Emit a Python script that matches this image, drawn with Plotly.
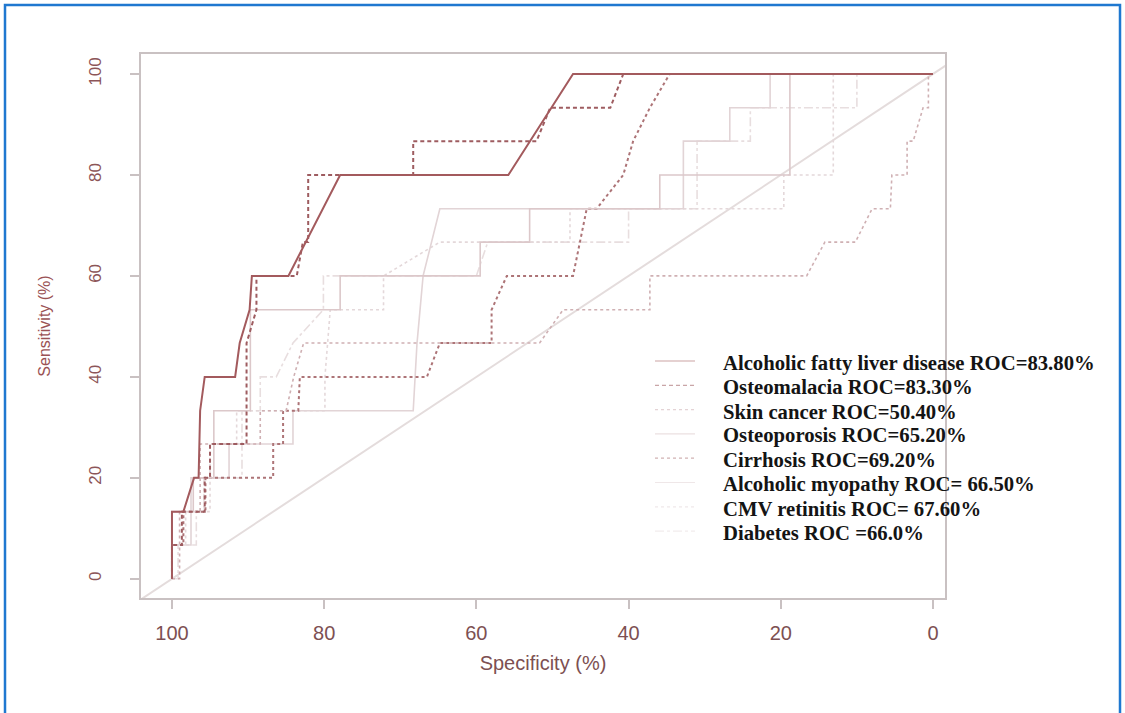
import plotly.graph_objects as go

# ---------------- data (specificity %, sensitivity %) ----------------
legend_labels = [
    "Alcoholic fatty liver disease ROC=83.80%",
    "Osteomalacia ROC=83.30%",
    "Skin cancer ROC=50.40%",
    "Osteoporosis ROC=65.20%",
    "Cirrhosis ROC=69.20%",
    "Alcoholic myopathy ROC= 66.50%",
    "CMV retinitis ROC= 67.60%",
    "Diabetes ROC =66.0%",
]

afld_spec = [100, 100, 98.5, 97.1, 96.5, 96.3, 95.7, 91.7, 91.1, 89.8, 89.5, 84.7, 77.9, 55.8, 47.3, 0]
afld_sens = [0, 13.3, 13.3, 20, 20, 33.3, 40, 40, 46.7, 53.3, 60, 60, 80, 80, 100, 100]

osteomalacia_spec = [100, 100, 98.7, 98.7, 95.7, 95.7, 95.0, 95.0, 90.2, 90.2, 88.9, 88.9, 83.6, 82.8, 82.1, 82.1,
                     68.3, 68.3, 52.1, 50.3, 42.4, 40.7, 0]
osteomalacia_sens = [0, 6.7, 6.7, 13.3, 13.3, 20, 20, 26.7, 26.7, 46.7, 53.3, 60, 60, 66.7, 66.7, 80,
                     80, 86.7, 86.7, 93.3, 93.3, 100, 100]

skin_spec = [100, 99.0, 99.0, 96.3, 96.3, 88.4, 88.4, 85.0, 84.0, 82.7, 51.7, 48.6, 37.2, 37.2, 16.6, 14.2,
             10.2, 8.0, 5.6, 5.4, 3.4, 3.4, 2.6, 1.3, 0.6, 0.6, 0]
skin_sens = [0, 0, 13.3, 13.3, 26.7, 26.7, 33.3, 33.3, 40, 46.7, 46.7, 53.3, 53.3, 60, 60, 66.7,
             66.7, 73.3, 73.3, 80, 80, 86.7, 86.7, 93.3, 93.3, 100, 100]

osteoporosis_spec = [100, 100, 97.2, 97.2, 94.5, 94.5, 89.7, 89.7, 77.9, 77.9, 59.5, 59.5, 53.0, 53.0,
                     35.9, 35.9, 18.8, 18.8, 0]
osteoporosis_sens = [0, 13.3, 13.3, 20, 20, 33.3, 33.3, 53.3, 53.3, 60, 60, 66.7, 66.7, 73.3,
                     73.3, 80, 80, 100, 100]

cirrhosis_spec = [100, 100, 98.5, 98.5, 95.6, 95.6, 86.7, 86.7, 85.4, 85.4, 83.4, 83.2, 66.5, 64.8, 58.0,
                  58.0, 56.0, 47.3, 45.5, 44.2, 40.7, 39.4, 37.2, 34.6, 0]
cirrhosis_sens = [0, 6.7, 6.7, 13.3, 13.3, 20, 20, 26.7, 26.7, 33.3, 33.3, 40, 40, 46.7, 46.7,
                  53.3, 60, 60, 73.3, 73.3, 80, 86.7, 93.3, 100, 100]

myopathy_spec = [100, 100, 97.5, 97.5, 92.5, 92.5, 84.1, 84.1, 68.3, 67.8, 67.0, 64.8, 32.8, 32.8,
                 26.7, 26.7, 21.4, 21.4, 0]
myopathy_sens = [0, 6.7, 6.7, 20, 20, 26.7, 26.7, 33.3, 33.3, 46.7, 60, 73.3, 73.3, 86.7,
                 86.7, 93.3, 93.3, 100, 100]

cmv_spec = [100, 100, 98.2, 98.2, 95.0, 95.0, 91.5, 91.5, 79.9, 79.9, 79.2, 72.2, 72.2, 64.8, 47.7,
            47.7, 19.6, 19.6, 13.1, 13.1, 0]
cmv_sens = [0, 6.7, 6.7, 13.3, 13.3, 26.7, 26.7, 33.3, 33.3, 40, 53.3, 53.3, 60, 66.7, 66.7,
            73.3, 73.3, 80, 80, 100, 100]

diabetes_spec = [100, 99.2, 99.2, 96.8, 96.8, 95.8, 95.8, 90.8, 90.8, 88.4, 88.4, 86.3, 84.1, 80.1, 80.1,
                 60.0, 58.5, 40.0, 40.0, 31.0, 31.0, 24.0, 24.0, 10.0, 10.0, 0]
diabetes_sens = [0, 0, 6.7, 6.7, 13.3, 13.3, 20, 20, 33.3, 33.3, 40, 40, 46.7, 53.3, 60,
                 60, 66.7, 66.7, 73.3, 73.3, 86.7, 86.7, 93.3, 93.3, 100, 100]

# chance line (spec + sens = 100), extended across the plot box
chance_spec = [106, -4]
chance_sens = [-6, 104]

tick_values = [100, 80, 60, 40, 20, 0]
tick_labels = ["100", "80", "60", "40", "20", "0"]

# ---------------- styling ----------------
series = [
    (afld_spec, afld_sens, "#a35a5d", 2.0, "solid"),
    (osteomalacia_spec, osteomalacia_sens, "#9e5c60", 2.0, "4px,3px"),
    (skin_spec, skin_sens, "#cfb0b3", 1.6, "dot"),
    (osteoporosis_spec, osteoporosis_sens, "#dcc8ca", 1.6, "solid"),
    (cirrhosis_spec, cirrhosis_sens, "#ad7477", 2.0, "dot"),
    (myopathy_spec, myopathy_sens, "#e2d4d6", 1.6, "solid"),
    (cmv_spec, cmv_sens, "#e4d8da", 1.6, "dot"),
    (diabetes_spec, diabetes_sens, "#e8dedf", 1.6, "dashdot"),
]

W, H = 1125, 713
ML, MR, MT, MB = 141, 180, 54, 115
PW, PH = W - ML - MR, H - MT - MB


def px_to_paper_x(px):
    return (px - ML) / PW


def px_to_paper_y(py):
    return (H - MB - py) / PH


fig = go.Figure()

fig.add_trace(go.Scatter(
    x=chance_spec, y=chance_sens, mode="lines",
    line=dict(color="#e4dcdc", width=2), showlegend=False, hoverinfo="skip"))

# light curves first so the darker ones sit on top
for (sx, sy, col, w, dash), name in reversed(list(zip(series, legend_labels))):
    fig.add_trace(go.Scatter(
        x=sx, y=sy, mode="lines", name=name, showlegend=False,
        line=dict(color=col, width=w, dash=dash)))

# hand-placed legend (text + line sample) to match the original spacing
annotations = []
shapes = []
row0, row_gap = 363, 24.3
for i, ((sx, sy, col, w, dash), name) in enumerate(zip(series, legend_labels)):
    yc = row0 + i * row_gap
    annotations.append(dict(
        text=name, xref="paper", yref="paper",
        x=px_to_paper_x(721), y=px_to_paper_y(yc),
        xanchor="left", yanchor="middle", showarrow=False,
        font=dict(family="Liberation Serif", size=20.7, color="#141414", weight="bold"),
    ))
    shapes.append(dict(
        type="line", xref="paper", yref="paper",
        x0=px_to_paper_x(655), x1=px_to_paper_x(695),
        y0=px_to_paper_y(yc - 2), y1=px_to_paper_y(yc - 2),
        line=dict(color=col, width=1.2, dash=dash), opacity=0.55,
    ))

# outer blue frame of the figure panel
shapes.append(dict(
    type="rect", xref="paper", yref="paper",
    x0=px_to_paper_x(5), x1=px_to_paper_x(1120),
    y0=px_to_paper_y(730), y1=px_to_paper_y(5),
    line=dict(color="#1f78d0", width=2.5), fillcolor="rgba(0,0,0,0)",
))

axis_color = "#c9c1c2"

fig.update_layout(
    width=W, height=H,
    paper_bgcolor="white", plot_bgcolor="white",
    margin=dict(l=ML, r=MR, t=MT, b=MB),
    showlegend=False,
    xaxis=dict(
        range=[104.07, -1.58], autorange=False,
        tickmode="array", tickvals=tick_values, ticktext=tick_labels,
        ticks="outside", ticklen=9, tickcolor=axis_color, tickwidth=1.5,
        ticklabelstandoff=7,
        showgrid=False, zeroline=False,
        showline=True, mirror=True, linecolor=axis_color, linewidth=2,
        tickfont=dict(family="Liberation Sans", size=20, color="#7d5052"),
        title=dict(text="Specificity (%)", standoff=13,
                   font=dict(family="Liberation Sans", size=20, color="#7d5052")),
    ),
    yaxis=dict(
        range=[-3.8, 103.96], autorange=False,
        tickmode="array", tickvals=tick_values, ticktext=tick_labels,
        ticks="outside", ticklen=9, tickcolor=axis_color, tickwidth=1.5,
        tickangle=-90, ticklabelstandoff=22,
        showgrid=False, zeroline=False,
        showline=True, mirror=True, linecolor=axis_color, linewidth=2,
        tickfont=dict(family="Liberation Sans", size=17, color="#8c5558"),
        title=dict(text="Sensitivity (%)", standoff=32,
                   font=dict(family="Liberation Sans", size=16, color="#9a5254")),
    ),
    annotations=annotations,
    shapes=shapes,
)

fig.write_html("out.html", config={"displayModeBar": False},
               post_script="document.body.style.margin='0px';")
